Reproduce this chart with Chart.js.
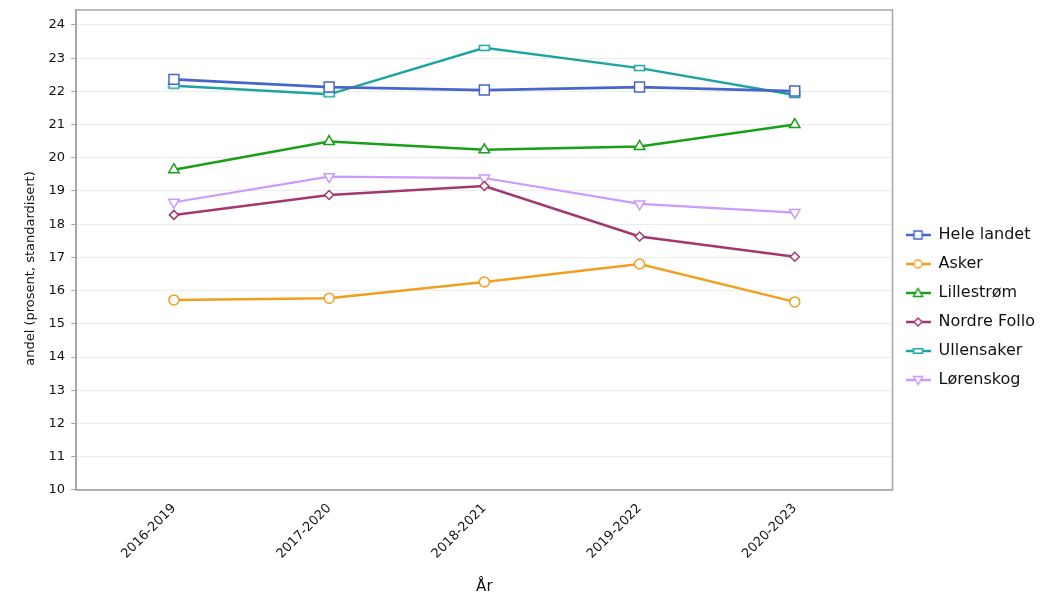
<!DOCTYPE html>
<html>
<head>
<meta charset="utf-8">
<script src="https://cdn.jsdelivr.net/npm/chart.js@4.4.1/dist/chart.umd.min.js"></script>
<style>
	html, body { margin: 0; padding: 0; background: #fff; }
</style>
</head>
<body>
<canvas id="chart" width="1047" height="609"></canvas>
<script>
const categories = ['2016-2019', '2017-2020', '2018-2021', '2019-2022', '2020-2023'];
const yTickValues = [10, 11, 12, 13, 14, 15, 16, 17, 18, 19, 20, 21, 22, 23, 24];

const heleLandet = [22.36, 22.13, 22.04, 22.13, 22.01];
const asker = [15.72, 15.77, 16.26, 16.80, 15.66];
const lillestrom = [19.64, 20.49, 20.24, 20.34, 21.00];
const nordreFollo = [18.28, 18.88, 19.15, 17.63, 17.02];
const ullensaker = [22.17, 21.91, 23.31, 22.70, 21.89];
const lorenskog = [18.66, 19.43, 19.39, 18.61, 18.35];

Chart.defaults.font.family = "'DejaVu Sans', sans-serif";
Chart.defaults.color = '#111';

// small marker drawn by hand (legend icons + the flat Ullensaker box)
function drawMarker(ctx, shape, x, y, color, s) {
	ctx.beginPath();
	if (shape === 'square') ctx.rect(x - 4 * s, y - 4 * s, 8 * s, 8 * s);
	else if (shape === 'circle') ctx.arc(x, y, 4 * s, 0, Math.PI * 2);
	else if (shape === 'triangle') {
		ctx.moveTo(x, y - 4.5 * s); ctx.lineTo(x + 4.5 * s, y + 3.5 * s); ctx.lineTo(x - 4.5 * s, y + 3.5 * s); ctx.closePath();
	} else if (shape === 'diamond') {
		ctx.moveTo(x, y - 4 * s); ctx.lineTo(x + 4 * s, y); ctx.lineTo(x, y + 4 * s); ctx.lineTo(x - 4 * s, y); ctx.closePath();
	} else if (shape === 'flat') ctx.rect(x - 4.5 * s, y - 2.2 * s, 9 * s, 4.4 * s);
	else if (shape === 'down') {
		ctx.moveTo(x - 4.5 * s, y - 3.5 * s); ctx.lineTo(x + 4.5 * s, y - 3.5 * s); ctx.lineTo(x, y + 4.5 * s); ctx.closePath();
	}
	ctx.fillStyle = '#fff';
	ctx.fill();
	ctx.strokeStyle = color;
	ctx.lineWidth = 1.5;
	ctx.stroke();
}

function legendIcon(color, shape) {
	const c = document.createElement('canvas');
	c.width = 25; c.height = 12;
	const ctx = c.getContext('2d');
	ctx.strokeStyle = color;
	ctx.lineWidth = 2.5;
	ctx.beginPath(); ctx.moveTo(0, 6); ctx.lineTo(25, 6); ctx.stroke();
	drawMarker(ctx, shape, 12.5, 6, color, 1);
	return c;
}

function flatBox(color) {
	const c = document.createElement('canvas');
	c.width = 13; c.height = 8;
	drawMarker(c.getContext('2d'), 'flat', 6.5, 4, color, 1.1);
	return c;
}

const toPoints = values => values.map((v, i) => ({ x: i, y: v }));

const series = [
	{ label: 'Hele landet', data: heleLandet, color: '#4766c9', shape: 'square', pointStyle: 'rect', radius: 7, width: 2.8 },
	{ label: 'Asker', data: asker, color: '#f0a01e', shape: 'circle', pointStyle: 'circle', radius: 5, width: 2.5 },
	{ label: 'Lillestrøm', data: lillestrom, color: '#18a018', shape: 'triangle', pointStyle: 'triangle', radius: 6, width: 2.5 },
	{ label: 'Nordre Follo', data: nordreFollo, color: '#a3386c', shape: 'diamond', pointStyle: 'rectRot', radius: 4.5, width: 2.5 },
	{ label: 'Ullensaker', data: ullensaker, color: '#1ea3a3', shape: 'flat', pointStyle: null, radius: 5, width: 2.5 },
	{ label: 'Lørenskog', data: lorenskog, color: '#cc99ff', shape: 'down', pointStyle: 'triangle', radius: 6, width: 2.2, rotation: 180 }
];

const datasets = series.map(s => ({
	label: s.label,
	data: toPoints(s.data),
	borderColor: s.color,
	backgroundColor: '#fff',
	borderWidth: s.width,
	pointStyle: s.pointStyle || flatBox(s.color),
	pointRadius: s.radius,
	pointRotation: s.rotation || 0,
	pointBorderWidth: 1.5,
	pointBackgroundColor: '#fff',
	pointBorderColor: s.color,
	tension: 0
}));

const frame = {
	id: 'frame',
	beforeDatasetsDraw(chart) {
		const { ctx, chartArea: a } = chart;
		ctx.save();
		ctx.strokeStyle = '#a6a6a6';
		ctx.lineWidth = 1.5;
		ctx.strokeRect(a.left, a.top, a.right - a.left, a.bottom - a.top);
		ctx.restore();
	}
};

new Chart(document.getElementById('chart'), {
	type: 'line',
	data: { datasets },
	plugins: [frame],
	options: {
		responsive: false,
		animation: false,
		layout: { padding: { left: 12, right: 2, top: 6, bottom: 0 } },
		plugins: {
			tooltip: { enabled: false },
			legend: {
				position: 'right',
				labels: {
					usePointStyle: true,
					pointStyleWidth: 25,
					padding: 13,
					color: '#111',
					font: { size: 16 },
					generateLabels: chart => chart.data.datasets.map((ds, i) => ({
						text: ds.label,
						pointStyle: legendIcon(series[i].color, series[i].shape),
						fillStyle: '#fff',
						strokeStyle: series[i].color,
						lineWidth: 0,
						hidden: false,
						datasetIndex: i,
						fontColor: '#111'
					}))
				}
			}
		},
		scales: {
			x: {
				type: 'linear',
				min: -0.63,
				max: 4.63,
				afterBuildTicks: scale => { scale.ticks = categories.map((c, i) => ({ value: i })); },
				grid: { display: false },
				border: { color: '#a6a6a6', width: 1.5 },
				ticks: {
					autoSkip: false,
					maxRotation: 45,
					minRotation: 45,
					padding: 3,
					font: { size: 13 },
					callback: value => categories[value]
				},
				title: { display: true, text: 'År', font: { size: 15 }, padding: { top: 13, bottom: 13 } }
			},
			y: {
				min: 10,
				max: 24.45,
				afterBuildTicks: scale => { scale.ticks = yTickValues.map(v => ({ value: v })); },
				afterFit: scale => { scale.paddingTop = 10; },
				grid: { color: '#ececec', tickColor: '#a6a6a6', tickLength: 5 },
				border: { color: '#a6a6a6', width: 1.5 },
				ticks: { padding: 6, font: { size: 13 } },
				title: {
					display: true,
					text: 'andel (prosent, standardisert)\u00a0\u00a0\u00a0\u00a0\u00a0\u00a0\u00a0\u00a0\u00a0',
					font: { size: 13 },
					padding: { top: 11, bottom: 4 }
				}
			}
		}
	}
});
</script>
</body>
</html>
